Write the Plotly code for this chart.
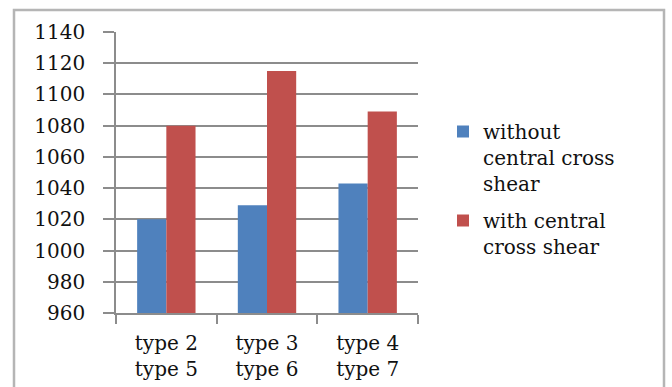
import plotly.graph_objects as go

# Data
categories = ["type 2<br>type 5", "type 3<br>type 6", "type 4<br>type 7"]
without_shear = [1020, 1029, 1043]
with_shear = [1080, 1115, 1089]
series_names = ["without<br>central cross<br>shear", "with central<br>cross shear"]
y_ticks = list(range(960, 1141, 20))

FONT = "DejaVu Serif"
TEXT = "#111111"
GRID = "#8c8c8c"

fig = go.Figure()
fig.add_trace(go.Bar(x=categories, y=without_shear, name=series_names[0],
                     legendgroup="without",
                     marker=dict(color="#4F81BD", line=dict(width=0))))
fig.add_trace(go.Bar(x=categories, y=with_shear, name=series_names[1],
                     legendgroup="with",
                     marker=dict(color="#C0504D", line=dict(width=0))))

# plot area: x 116..418, y 32..313 in a 672x387 page
L, R, T, B = 116, 418, 32, 313
W, H = 672, 387
pw, ph = R - L, B - T

def px_x(v):
    return (v - L) / pw

def px_y(v):
    return (B - v) / ph

fig.update_layout(
    width=W, height=H,
    margin=dict(l=L, r=W - R, t=T, b=H - B, pad=0, autoexpand=False),
    paper_bgcolor="white", plot_bgcolor="white",
    barmode="group", bargap=0.42, bargroupgap=0,
    font=dict(family=FONT, size=20, color=TEXT),
    showlegend=True,
    legend=dict(x=px_x(443), y=px_y(112), xanchor="left", yanchor="top",
                font=dict(family=FONT, size=20, color=TEXT),
                valign="top", tracegroupgap=8, itemwidth=30,
                bgcolor="rgba(0,0,0,0)"),
    xaxis=dict(showline=True, linecolor=GRID, linewidth=1.5,
               ticks="outside", tickson="boundaries", ticklen=9,
               tickcolor=GRID, tickwidth=1.5, showgrid=False,
               automargin=False,
               tickfont=dict(family=FONT, size=20, color=TEXT),
               ticklabelstandoff=11),
    yaxis=dict(range=[960, 1140], tickvals=y_ticks, showline=True,
               linecolor=GRID, linewidth=1.5, ticks="outside", ticklen=11,
               tickcolor=GRID, tickwidth=1.5, showgrid=True,
               gridcolor=GRID, gridwidth=1.5, zeroline=False,
               automargin=False,
               tickfont=dict(family=FONT, size=20, color=TEXT),
               ticklabelstandoff=14),
    shapes=[dict(type="rect", xref="paper", yref="paper",
                 x0=px_x(14), x1=px_x(664), y0=px_y(398), y1=px_y(10),
                 line=dict(color="#b5b5b5", width=2.5), layer="below")],
)

fig.write_html("out.html")
